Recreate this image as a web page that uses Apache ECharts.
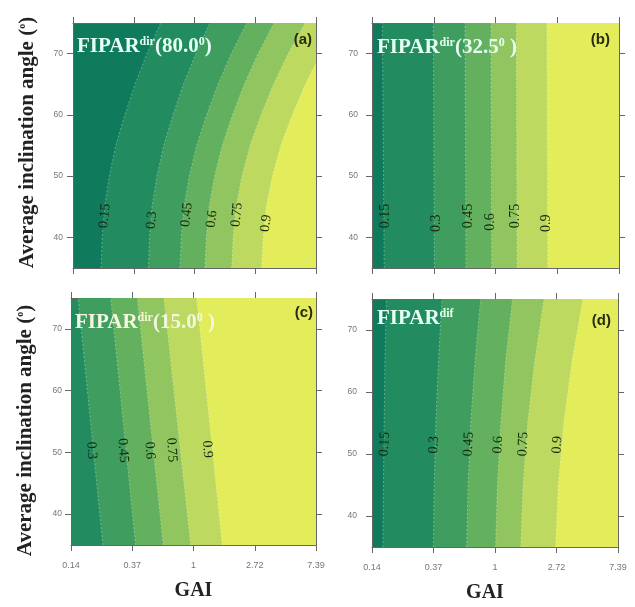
<!DOCTYPE html>
<html>
<head>
<meta charset="utf-8">
<script src="https://cdn.jsdelivr.net/npm/echarts@6/dist/echarts.min.js"></script>
<style>
  html, body { margin: 0; background: #fff; }
  #main { width: 635px; height: 607px; }
</style>
</head>
<body>
<div id="main"></div>
<script>
// contour levels and the colour of each band (below 0.15 ... above 0.9)
const levels = ['0.15', '0.3', '0.45', '0.6', '0.75', '0.9'];
const bandColors = ['#0f7b5c', '#228b60', '#3f9d5f', '#63b05f', '#90c55f', '#bdd95f', '#e3ed5b'];
const gaiTicks = ['0.14', '0.37', '1', '2.72', '7.39'];
const angleTicks = [40, 50, 60, 70];

// (a) FIPAR dir, 80.0 deg : GAI of each contour line at each angle
const anglesA = [35, 40, 45, 50, 55, 60, 65, 70, 75];
const edgesA = [
  [0.215, 0.219, 0.228, 0.246, 0.274, 0.318, 0.376, 0.457, 0.573],
  [0.468, 0.477, 0.497, 0.539, 0.603, 0.702, 0.834, 1.022, 1.290],
  [0.787, 0.805, 0.841, 0.918, 1.037, 1.221, 1.473, 1.833, 2.361],
  [1.189, 1.215, 1.273, 1.394, 1.579, 1.872, 2.270, 2.849, 3.702],
  [1.844, 1.889, 1.982, 2.184, 2.494, 2.989, 3.669, 4.669, 6.166],
  [3.022, 3.099, 3.258, 3.604, 4.141, 5.003, 6.203, 7.981, 10.68]
];
const labelGaiA = [0.228, 0.494, 0.88, 1.33, 2.01, 3.25];
const labelAngA = [43.5, 42.8, 43.7, 43.0, 43.7, 42.3];

// (b) FIPAR dir, 32.5 deg
const anglesB = [35, 75];
const edgesB = [
  [0.165, 0.160],
  [0.372, 0.365],
  [0.620, 0.610],
  [0.940, 0.930],
  [1.420, 1.400],
  [2.330, 2.300]
];
const labelGaiB = [0.167, 0.386, 0.64, 0.92, 1.38, 2.28];
const labelAngB = [43.5, 42.3, 43.5, 42.5, 43.5, 42.3];

// (c) FIPAR dir, 15.0 deg (0.15 line lies left of the plot)
const anglesC = [35, 75];
const edgesC = [
  null,
  [0.228, 0.152],
  [0.389, 0.259],
  [0.611, 0.400],
  [0.955, 0.617],
  [1.600, 1.053]
];
const labelGaiC = [0.189, 0.316, 0.489, 0.70, 1.25];
const labelAngC = [50.3, 50.3, 50.3, 50.4, 50.5];

// (d) FIPAR dif
const anglesD = [35, 45, 55, 65, 75];
const edgesD = [
  [0.162, 0.163, 0.165, 0.167, 0.171],
  [0.367, 0.372, 0.382, 0.399, 0.422],
  [0.631, 0.645, 0.675, 0.723, 0.792],
  [1.01, 1.04, 1.10, 1.19, 1.33],
  [1.52, 1.58, 1.70, 1.91, 2.22],
  [2.68, 2.80, 3.06, 3.50, 4.18]
];
const labelGaiD = [0.166, 0.37, 0.65, 1.05, 1.58, 2.75];
const labelAngD = [51.6, 51.5, 51.6, 51.5, 51.6, 51.5];

const panels = [
  { grid: { left: 73, top: 23, width: 243, height: 245 }, angles: anglesA, edges: edgesA, base: 0,
    labels: levels, labelGai: labelGaiA, labelAng: labelAngA, rot: 84,
    title: '{m|FIPAR}{s|dir}{m|(80.0}{s|0}{m|)}', tPos: [77, 36], letter: '(a)', lPos: [323, 32], yMargin: 10 },
  { grid: { left: 372, top: 23, width: 247, height: 245 }, angles: anglesB, edges: edgesB, base: 0,
    labels: levels, labelGai: labelGaiB, labelAng: labelAngB, rot: 90,
    title: '{m|FIPAR}{s|dir}{m|(32.5}{s|0}{m| )}', tPos: [377, 37], letter: '(b)', lPos: [25, 32], yMargin: 14 },
  { grid: { left: 71, top: 298, width: 245, height: 247 }, angles: anglesC, edges: edgesC, base: 1,
    labels: levels.slice(1), labelGai: labelGaiC, labelAng: labelAngC, rot: -86,
    title: '{m|FIPAR}{s|dir}{m|(15.0}{s|0}{m| )}', tPos: [75, 312], letter: '(c)', lPos: [322, 305], yMargin: 9 },
  { grid: { left: 372, top: 299, width: 246, height: 248 }, angles: anglesD, edges: edgesD, base: 0,
    labels: levels, labelGai: labelGaiD, labelAng: labelAngD, rot: 87,
    title: '{m|FIPAR}{s|dif}', tPos: [377, 308], letter: '(d)', lPos: [24, 313], yMargin: 15 }
];

const serif = 'Liberation Serif';
const sans = 'Liberation Sans';
const frame = { show: true, onZero: false, lineStyle: { color: '#666', width: 1 } };
const ticks = { show: true, inside: false, length: 6, lineStyle: { color: '#666' } };

const grids = [], xAxes = [], yAxes = [], series = [], titles = [];

panels.forEach((p, i) => {
  const bottomRow = i >= 2;
  const leftCol = i % 2 === 0;
  grids.push(Object.assign({ show: true, backgroundColor: bandColors[p.base], borderWidth: 0 }, p.grid));

  xAxes.push({
    gridIndex: i, type: 'value', position: 'bottom', min: -2, max: 2, interval: 1,
    axisLine: frame, axisTick: ticks, splitLine: { show: false },
    axisLabel: {
      show: bottomRow, margin: 16, fontSize: 9, color: '#777', fontFamily: sans,
      formatter: v => gaiTicks[Math.round(v) + 2]
    },
    name: bottomRow ? 'GAI' : '', nameLocation: 'middle', nameGap: 36,
    nameTextStyle: { fontFamily: serif, fontWeight: 'bold', fontSize: 20, color: '#222',
      padding: i === 3 ? [0, 20, 0, 0] : 0 }
  });
  xAxes.push({
    gridIndex: i, type: 'value', position: 'top', min: -2, max: 2, interval: 1,
    axisLine: frame, axisTick: ticks, axisLabel: { show: false }, splitLine: { show: false }
  });
  yAxes.push({
    gridIndex: i, type: 'value', position: 'left', min: 35, max: 75,
    axisLine: frame,
    axisTick: Object.assign({ customValues: angleTicks }, ticks),
    axisLabel: { customValues: angleTicks, margin: p.yMargin, fontSize: 8.5, color: '#777', fontFamily: sans },
    splitLine: { show: false },
    name: leftCol ? '{m|Average inclination angle (}{s|o}{m|)}' : '',
    nameLocation: 'middle', nameGap: 35,
    nameTextStyle: {
      padding: i === 0 ? [0, 0, 0, 6] : [0, 18, 0, 0],
      rich: {
        m: { fontFamily: serif, fontWeight: 'bold', fontSize: 21, color: '#222' },
        s: { fontFamily: serif, fontWeight: 'bold', fontSize: 10, color: '#222', verticalAlign: 'top' }
      }
    }
  });
  yAxes.push({
    gridIndex: i, type: 'value', position: 'right', min: 35, max: 75,
    axisLine: frame,
    axisTick: Object.assign({ customValues: angleTicks }, ticks),
    axisLabel: { show: false }, splitLine: { show: false }
  });

  // filled bands: region right of each contour line, painted from low to high level
  const rows = [];
  p.edges.forEach((row, k) => { if (row) rows.push([Math.log(row[0]), p.angles[0], k]); });
  series.push({
    type: 'custom', xAxisIndex: i * 2, yAxisIndex: i * 2, clip: true, silent: true,
    data: rows,
    renderItem: (params, api) => {
      const k = api.value(2);
      const row = p.edges[k];
      const last = p.angles.length - 1;
      const line = row.map((g, j) => api.coord([Math.log(g), p.angles[j]]));
      const pts = line.concat([api.coord([2, p.angles[last]]), api.coord([2, p.angles[0]])]);
      return {
        type: 'group',
        children: [
          { type: 'polygon', shape: { points: pts }, style: { fill: bandColors[k + 1] } },
          { type: 'polyline', shape: { points: line },
            style: { stroke: 'rgba(255,255,255,0.3)', lineWidth: 1, lineDash: [2, 2], fill: null } }
        ]
      };
    }
  });

  // contour labels
  series.push({
    type: 'custom', xAxisIndex: i * 2, yAxisIndex: i * 2, clip: true, silent: true, z: 5,
    data: p.labelGai.map((g, j) => [Math.log(g), p.labelAng[j], j]),
    renderItem: (params, api) => {
      const pt = api.coord([api.value(0), api.value(1)]);
      return {
        type: 'text', x: pt[0], y: pt[1], rotation: p.rot * Math.PI / 180,
        style: {
          text: p.labels[api.value(2)], fill: '#15290c',
          fontSize: 14, fontFamily: serif, align: 'center', verticalAlign: 'middle'
        }
      };
    }
  });

  const tColor = i === 2 ? '#f3f7e2' : '#e6fff4';
  titles.push({
    text: p.title, left: p.tPos[0], top: p.tPos[1], padding: 0,
    textStyle: {
      rich: {
        m: { fontFamily: serif, fontWeight: 'bold', fontSize: 21, lineHeight: 21, color: tColor },
        s: { fontFamily: serif, fontWeight: 'bold', fontSize: 12, verticalAlign: 'top', color: tColor }
      }
    }
  });
  titles.push({
    text: p.letter, right: p.lPos[0], top: p.lPos[1], padding: 0,
    textStyle: { fontFamily: sans, fontWeight: 'bold', fontSize: 15, color: '#2a2a12' }
  });
});

const chart = echarts.init(document.getElementById('main'));
chart.setOption({
  backgroundColor: '#fff',
  animation: false,
  title: titles,
  grid: grids,
  xAxis: xAxes,
  yAxis: yAxes,
  series: series
});
</script>
</body>
</html>
